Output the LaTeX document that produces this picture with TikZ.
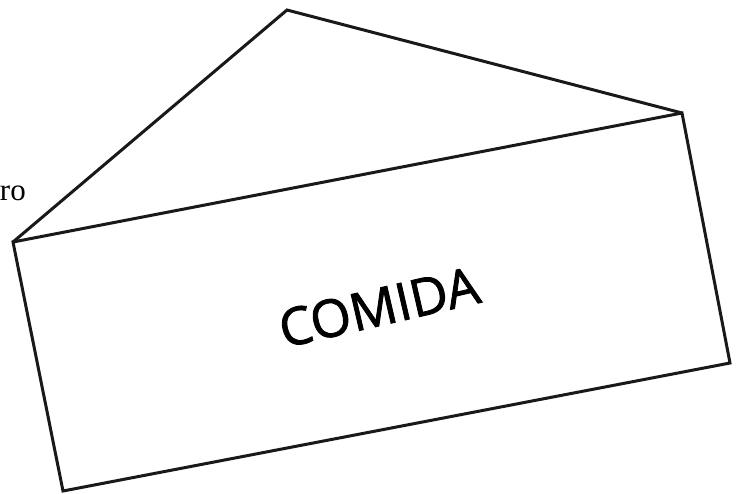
\documentclass[tikz,border=0pt]{standalone}
\usepackage{fontspec}
\usepackage{tikz}
\usetikzlibrary{calc}
\newfontfamily\labelfont{Liberation Serif}
\newfontfamily\signfont[FakeBold=1.6]{Open Sans}

\begin{document}
\begin{tikzpicture}[
  x=1pt,y=-1pt,
  edge/.style={draw=black!90,line width=3pt,line join=miter},
  sign/.style={font=\signfont\fontsize{52}{60}\selectfont,inner sep=0pt,rotate=13},
  side/.style={font=\labelfont\fontsize{31}{36}\selectfont,inner sep=0pt}
]
\useasboundingbox (0,0) rectangle (736,493);
% corners of the package
\coordinate (apex) at (287,10);
\coordinate (tl) at (13,242);
\coordinate (tr) at (682,113);
\coordinate (br) at (730,363);
\coordinate (bl) at (63,491);
\draw[edge] (tl)--(apex)--(tr);
\draw[edge] (tl)--(tr)--(br)--(bl)--cycle;
\node[sign] (food) at (379,307) {COMIDA};
\node[side,anchor=base east] (cut) at (26,200) {ro};
\end{tikzpicture}
\end{document}
